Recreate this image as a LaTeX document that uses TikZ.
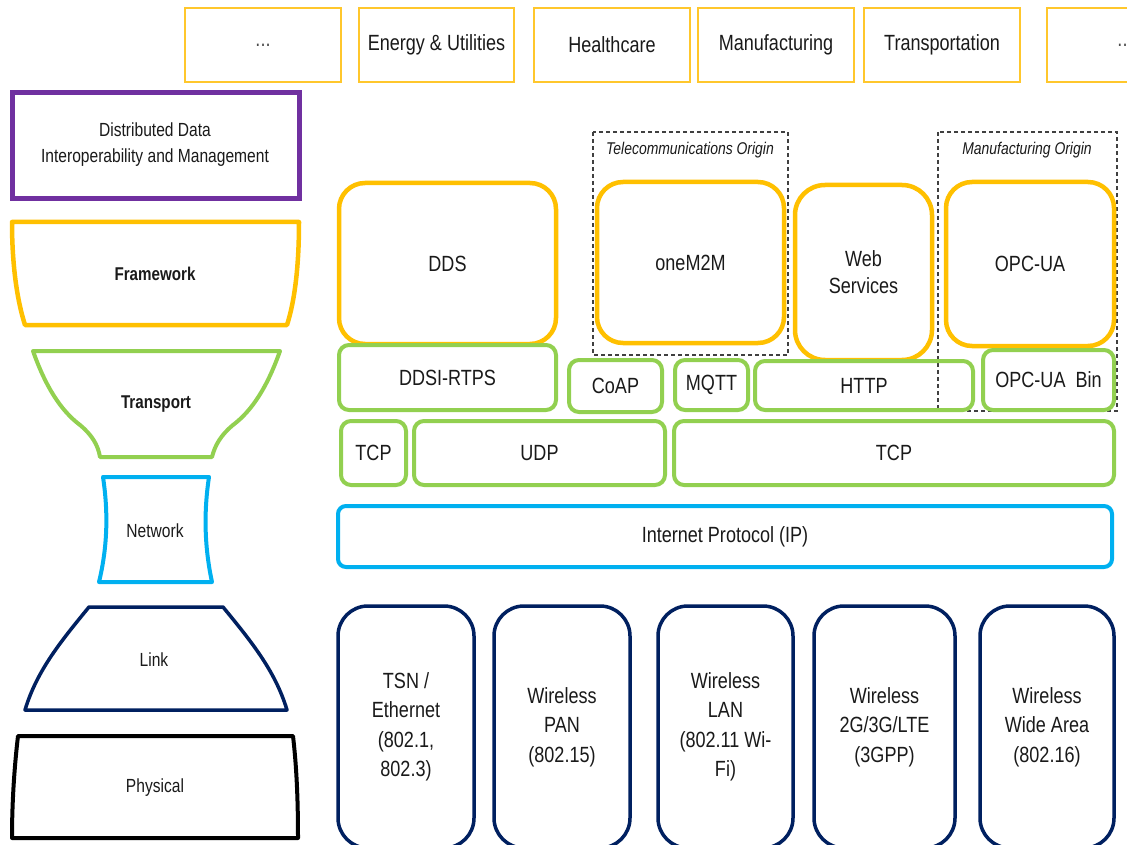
\documentclass[tikz,border=0pt]{standalone}
\usepackage{fontspec}
\setmainfont{Liberation Sans}[FakeStretch=0.82]
\definecolor{gold}{HTML}{FFC000}
\definecolor{lgold}{HTML}{FFC72C}
\definecolor{lgreen}{HTML}{92D050}
\definecolor{lblue}{HTML}{00B0F0}
\definecolor{navy}{HTML}{002060}
\definecolor{purp}{HTML}{7030A0}
\definecolor{txt}{HTML}{1A1A1A}
\newcommand{\bx}[7]{\node[#1, minimum width={#4-#2}, minimum height={#5-#3}] (#6) at ({(#2+#4)/2},{(#3+#5)/2}) {#7};}
\tikzset{
  every node/.style={text=txt, inner sep=0pt, align=center},
  industry/.style={draw=lgold, line width=1.8pt, font=\fontsize{22}{26}\selectfont},
  fwbox/.style={draw=gold, line width=4.5pt, rounded corners=26pt, font=\fontsize{22}{27}\selectfont},
  tpbox/.style={draw=lgreen, line width=4pt, rounded corners=10pt, font=\fontsize{22}{27}\selectfont},
  nwbox/.style={draw=lblue, line width=4pt, rounded corners=8pt, font=\fontsize{22}{27}\selectfont},
  lkbox/.style={draw=navy, line width=3.5pt, rounded corners=30pt, font=\fontsize{22}{29.5}\selectfont},
  origin/.style={draw=black!75, dash pattern=on 4pt off 3pt, line width=1.2pt},
  origintxt/.style={font=\fontsize{17}{20}\selectfont\itshape},
  layertxt/.style={font=\fontsize{19}{24}\selectfont},
  layerbold/.style={font=\fontsize{18.5}{24}\selectfont\bfseries},
}
\begin{document}
\begin{tikzpicture}[x=1pt,y=-1pt]
\useasboundingbox (0,0) rectangle (1127,845);
\fill[white] (0,0) rectangle (1127,845);
\clip (0,0) rectangle (1127,845);

% industries
\bx{industry}{185}{8}{341}{82}{ind1}{\raisebox{-3pt}{\textcolor{black!70}{...}}}
\bx{industry}{359}{8}{514}{82}{ind2}{Energy \& Utilities}
\bx{industry}{534}{8}{690}{82}{ind3}{Healthcare}
\bx{industry}{698}{8}{854}{82}{ind4}{Manufacturing}
\bx{industry}{864}{8}{1020}{82}{ind5}{Transportation}
\bx{industry}{1047}{8}{1203}{82}{ind6}{\raisebox{-3pt}{\textcolor{black!70}{...}}}

% left column layers
\draw[purp, line width=5pt] (12,93) rectangle (299,199);
\node[font=\fontsize{19}{26}\selectfont] (ddim) at (155,145) {Distributed Data\\Interoperability and Management};

\draw[gold, line width=4.5pt, line join=round] (12,222) -- (299,222) .. controls (299,265) and (295,300) .. (287,325) -- (25,325) .. controls (17,300) and (12,265) .. cycle;
\node[layerbold] (fwl) at (155,274) {Framework};

\draw[lgreen, line width=4pt, line join=round] (33,351) -- (280,351) .. controls (268,385) and (253,410) .. (233,425) .. controls (221,435) and (215,445) .. (212,457) -- (100,457) .. controls (98,445) and (92,435) .. (80,425) .. controls (60,410) and (45,385) .. cycle;
\node[layerbold] (tpl) at (156,404) {Transport};

\draw[lblue, line width=4pt, line join=round] (103,477) -- (209,477) .. controls (204,510) and (204,545) .. (212,582) -- (99,582) .. controls (108,545) and (108,510) .. cycle;
\node[layertxt] (nwl) at (155,531) {Network};

\draw[navy, line width=3.5pt, line join=round] (89,607) -- (223,607) .. controls (250,640) and (275,670) .. (287,710) -- (25,710) .. controls (37,670) and (62,640) .. cycle;
\node[layertxt] (lkl) at (154,660) {Link};

\draw[black, line width=4pt, line join=round] (18,736) -- (293,736) .. controls (297,770) and (298,805) .. (298,838) -- (12,838) .. controls (12,805) and (14,770) .. cycle;
\node[layertxt] (phl) at (155,788) {Physical};

% origin groups
\draw[origin] (593,132) rectangle (788,355);
\node[origintxt] (telo) at (690,150) {Telecommunications Origin};
\draw[origin] (938,132) rectangle (1117,411);
\node[origintxt] (mano) at (1027,150) {Manufacturing Origin};

% framework boxes
\bx{fwbox}{339}{183}{556}{344}{dds}{DDS}
\bx{fwbox}{597}{182}{784}{343}{onem2m}{oneM2M}
\bx{fwbox, rounded corners=30pt}{795}{185}{932}{360}{ws}{Web\\Services}
\bx{fwbox}{946}{182}{1114}{346}{opcua}{OPC-UA}

% transport row 1
\bx{tpbox}{339}{345}{556}{410}{ddsi}{DDSI-RTPS}
\bx{tpbox}{569}{360}{662}{412}{coap}{CoAP}
\bx{tpbox}{675}{360}{748}{410}{mqtt}{MQTT}
\bx{tpbox}{755}{361}{973}{410}{http}{HTTP}
\bx{tpbox}{983}{350}{1114}{410}{opcbin}{OPC-UA\ \ Bin}

% transport row 2
\bx{tpbox}{341}{421}{406}{485}{tcp1}{TCP}
\bx{tpbox}{414}{421}{665}{485}{udp}{UDP}
\bx{tpbox}{674}{421}{1114}{485}{tcp2}{TCP}

% network
\bx{nwbox}{338}{506}{1112}{567}{ip}{Internet Protocol (IP)}

% link
\bx{lkbox}{338}{606}{474}{848}{tsn}{TSN /\\Ethernet\\(802.1,\\802.3)}
\bx{lkbox}{494}{606}{630}{848}{pan}{Wireless\\PAN\\(802.15)}
\bx{lkbox}{658}{606}{793}{848}{lan}{Wireless\\LAN\\(802.11 Wi-\\Fi)}
\bx{lkbox}{814}{606}{955}{848}{cell}{Wireless\\2G/3G/LTE\\(3GPP)}
\bx{lkbox}{980}{606}{1114}{848}{wwa}{Wireless\\Wide Area\\(802.16)}
\end{tikzpicture}
\end{document}
